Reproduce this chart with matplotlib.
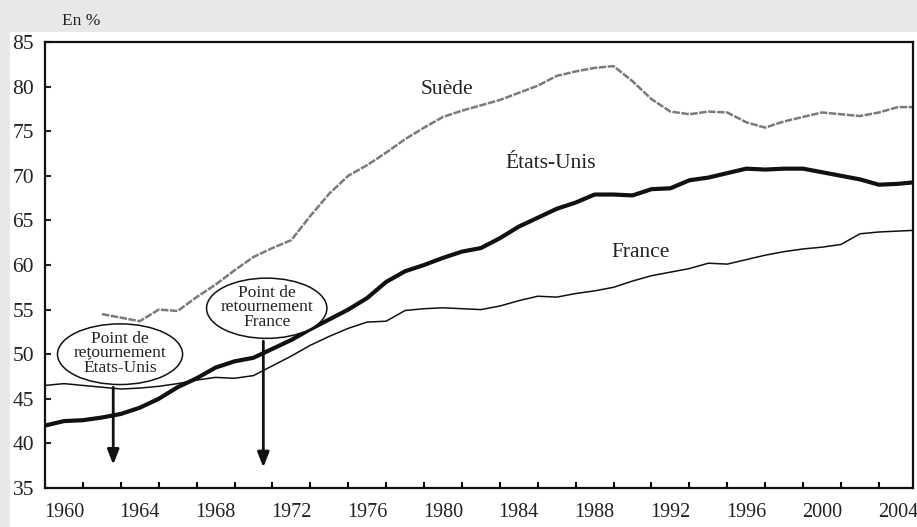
import matplotlib
matplotlib.use("Agg")
import matplotlib.pyplot as plt
from matplotlib.patches import Ellipse, Rectangle

plt.rcParams['font.family'] = ['Liberation Serif', 'DejaVu Serif']

# taux d'activite des femmes, en %
years_us = list(range(1959, 2006))
etats_unis = [42.0, 42.5, 42.6, 42.9, 43.3, 44.0, 45.0, 46.3, 47.3, 48.5, 49.2,
              49.6, 50.6, 51.6, 52.8, 53.9, 55.0, 56.3, 58.1, 59.3, 60.0,
              60.8, 61.5, 61.9, 63.0, 64.3, 65.3, 66.3, 67.0, 67.9, 67.9,
              67.8, 68.5, 68.6, 69.5, 69.8, 70.3, 70.8, 70.7, 70.8, 70.8,
              70.4, 70.0, 69.6, 69.0, 69.1, 69.3]
years_fr = list(range(1959, 2006))
france = [46.5, 46.7, 46.5, 46.3, 46.1, 46.2, 46.4, 46.7, 47.1, 47.4, 47.3,
          47.6, 48.7, 49.8, 51.0, 52.0, 52.9, 53.6, 53.7, 54.9, 55.1,
          55.2, 55.1, 55.0, 55.4, 56.0, 56.5, 56.4, 56.8, 57.1, 57.5,
          58.2, 58.8, 59.2, 59.6, 60.2, 60.1, 60.6, 61.1, 61.5, 61.8,
          62.0, 62.3, 63.5, 63.7, 63.8, 63.9]
years_se = list(range(1962, 2006))
suede = [54.5, 54.1, 53.7, 55.0, 54.85, 56.4, 57.8, 59.4, 60.9, 61.9, 62.8,
         65.5, 68.0, 70.0, 71.2, 72.6, 74.1, 75.4, 76.6, 77.3, 77.9,
         78.5, 79.3, 80.1, 81.2, 81.7, 82.1, 82.3, 80.6, 78.6, 77.2,
         76.9, 77.2, 77.1, 76.0, 75.4, 76.1, 76.6, 77.1, 76.9, 76.7,
         77.1, 77.7, 77.7]

year_labels = list(range(1960, 2005, 4))
y_ticks = list(range(35, 90, 5))

fig = plt.figure(figsize=(9.17, 5.27), dpi=100, facecolor='#e8e8e8')
fig.patches.append(Rectangle((10 / 917, 0), 1, (527 - 32) / 527,
                             transform=fig.transFigure, facecolor='white',
                             edgecolor='none', zorder=-10))
ax = fig.add_axes([45 / 917, 1 - 488 / 527, 868 / 917, 446 / 527])
ax.set_zorder(1)
ax.set_facecolor('white')

ax.plot(years_se, suede, color='#7a7a7a', lw=1.8, linestyle=(0, (3, 0.6)))
ax.plot(years_us, etats_unis, color='#111111', lw=3)
ax.plot(years_fr, france, color='#111111', lw=1.1)

ax.set_xlim(1959, 2004.8)
ax.set_ylim(35, 85)

ax.set_xticks(year_labels)
ax.set_xticklabels([str(y) for y in year_labels])
ax.set_xticks(list(range(1961, 2005, 2)), minor=True)
ax.tick_params(axis='x', which='major', length=0, pad=11, labelsize=14.5,
               colors='#222222')
ax.tick_params(axis='x', which='minor', direction='in', length=4, width=1.5)
ax.set_yticks(y_ticks)
ax.tick_params(axis='y', direction='in', length=4.5, width=1.5, pad=8,
               labelsize=15.5, colors='#222222')

for s in ax.spines.values():
    s.set_linestyle((0, (3, 1)))
    s.set_linewidth(1.6)
    s.set_color('#111111')

# series labels
ax.text(1980.2, 79.7, 'Suède', fontsize=15.5, ha='center', va='center', color='#222222')
ax.text(1985.7, 71.4, 'États-Unis', fontsize=15.5, ha='center', va='center', color='#222222')
ax.text(1990.45, 61.4, 'France', fontsize=15.5, ha='center', va='center', color='#222222')

# points de retournement
notes = [
    ('Point de\nretournement\nÉtats-Unis', 1962.96, 50.0, 6.6, 6.8, 1962.6, 37.3),
    ('Point de\nretournement\nFrance', 1970.7, 55.15, 6.35, 6.75, 1970.52, 37.0),
]
for txt, cx, cy, w, h, ax_x, tip in notes:
    ax.add_patch(Ellipse((cx, cy), w, h, facecolor='white', edgecolor='#111111',
                         lw=1.1, zorder=4))
    ax.text(cx, cy + 0.1, txt, fontsize=12.5, ha='center', va='center',
            linespacing=0.9, color='#222222', zorder=5)
    ax.annotate('', xy=(ax_x, tip), xytext=(ax_x, cy - h / 2),
                arrowprops=dict(arrowstyle='-|>,head_width=0.35,head_length=0.9',
                                color='#111111', lw=2), zorder=3)

fig.text(62 / 917, 1 - 21 / 527, 'En %', fontsize=12.5, ha='left', va='center',
         color='#222222')

fig.savefig('out.png', dpi=100, facecolor=fig.get_facecolor())
